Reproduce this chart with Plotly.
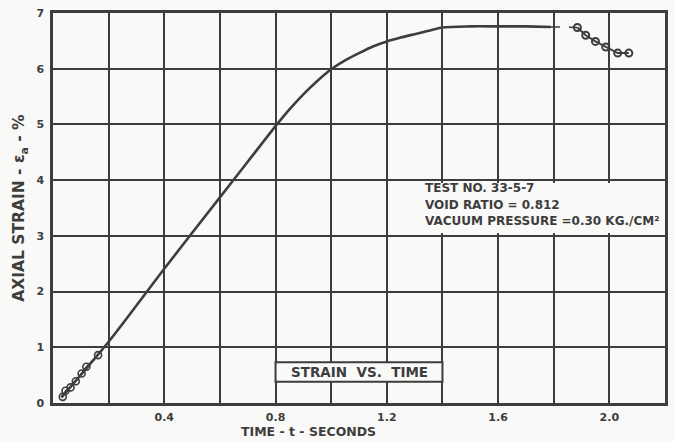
import plotly.graph_objects as go

# Data
curve_t = [0.03, 0.2, 0.4, 0.6, 0.7, 0.8, 0.85, 0.9, 0.95, 1.0, 1.05, 1.1, 1.15, 1.2,
           1.25, 1.3, 1.35, 1.4, 1.5, 1.6, 1.7, 1.79]
curve_v = [0.10, 1.10, 2.41, 3.69, 4.33, 4.97, 5.27, 5.54, 5.78, 5.99, 6.15, 6.28, 6.40, 6.49,
           6.56, 6.62, 6.68, 6.74, 6.76, 6.76, 6.76, 6.75]

start_t = [0.035, 0.045, 0.063, 0.082, 0.103, 0.12, 0.162]
start_v = [0.11, 0.22, 0.28, 0.39, 0.53, 0.65, 0.86]

gap_t = [1.79, 1.885]
gap_v = [6.75, 6.74]

tail_t = [1.885, 1.915, 1.95, 1.987, 2.03, 2.07]
tail_v = [6.74, 6.60, 6.49, 6.39, 6.28, 6.28]

x_ticks = [0.4, 0.8, 1.2, 1.6, 2.0]
x_labels = ["0.4", "0.8", "1.2", "1.6", "2.0"]
y_ticks = [0, 1, 2, 3, 4, 5, 6, 7]
y_labels = ["0", "1", "2", "3", "4", "5", "6", "7"]

note_lines = ["TEST NO. 33-5-7", "VOID RATIO = 0.812", "VACUUM PRESSURE =0.30 KG./CM²"]

ink = "#3d3d3d"
bg = "#f9f9f7"
font = "DejaVu Sans"

fig = go.Figure()
fig.add_trace(go.Scatter(x=curve_t, y=curve_v, mode="lines",
                         line=dict(color=ink, width=2.6, shape="spline", smoothing=0.8),
                         showlegend=False))
fig.add_trace(go.Scatter(x=start_t, y=start_v, mode="lines+markers",
                         line=dict(color=ink, width=1.5),
                         marker=dict(symbol="circle-open", size=7, color=ink, line=dict(width=1.6)),
                         showlegend=False))
fig.add_trace(go.Scatter(x=gap_t, y=gap_v, mode="lines",
                         line=dict(color=ink, width=1.5, dash="dash"),
                         showlegend=False))
fig.add_trace(go.Scatter(x=tail_t, y=tail_v, mode="lines+markers",
                         line=dict(color=ink, width=2),
                         marker=dict(symbol="circle-open", size=7, color=ink, line=dict(width=2)),
                         showlegend=False))

# white patch behind the note text
fig.add_shape(type="rect", x0=1.31, x1=2.19, y0=3.05, y1=3.95,
              fillcolor=bg, line=dict(width=0), layer="above")
for i, s in enumerate(note_lines):
    fig.add_annotation(x=1.33, y=3.86 - i * 0.3, text="<b>" + s + "</b>", showarrow=False,
                       xanchor="left", yanchor="middle",
                       font=dict(family=font, size=12, color=ink))

# title box
fig.add_shape(type="rect", x0=0.8, x1=1.4, y0=0.38, y1=0.73,
              fillcolor=bg, line=dict(color=ink, width=2), layer="above")
fig.add_annotation(x=1.1, y=0.555, text="<b>STRAIN  VS.  TIME</b>", showarrow=False,
                   font=dict(family=font, size=13.5, color=ink))

fig.add_annotation(xref="paper", yref="paper", x=0.418, y=-0.048, yanchor="top",
                   text="<b>TIME - t - SECONDS</b>", showarrow=False,
                   font=dict(family=font, size=12.5, color=ink))

grid = dict(showgrid=True, gridcolor=ink, gridwidth=2)
fig.update_xaxes(range=[0, 2.2], tickmode="array", tickvals=x_ticks, ticktext=x_labels,
                 minor=dict(tick0=0, dtick=0.2, **grid), **grid,
                 showline=True, linecolor=ink, linewidth=2.5, mirror=True,
                 zeroline=False, ticks="", ticklabelstandoff=2,
                 tickfont=dict(family=font, size=11, color=ink, weight="bold"))
fig.update_yaxes(range=[0, 7], tickvals=y_ticks, ticktext=y_labels, **grid,
                 showline=True, linecolor=ink, linewidth=2.5, mirror=True,
                 zeroline=False, ticks="", ticklabelstandoff=4,
                 title=dict(text="<b>AXIAL STRAIN - ε<sub>a</sub> - %</b>", standoff=8,
                            font=dict(family=font, size=15.5, color=ink)),
                 tickfont=dict(family=font, size=11, color=ink, weight="bold"))

fig.update_layout(width=675, height=441,
                  margin=dict(l=53, r=7, t=12, b=38),
                  paper_bgcolor=bg, plot_bgcolor=bg)

fig.write_html("out.html")
